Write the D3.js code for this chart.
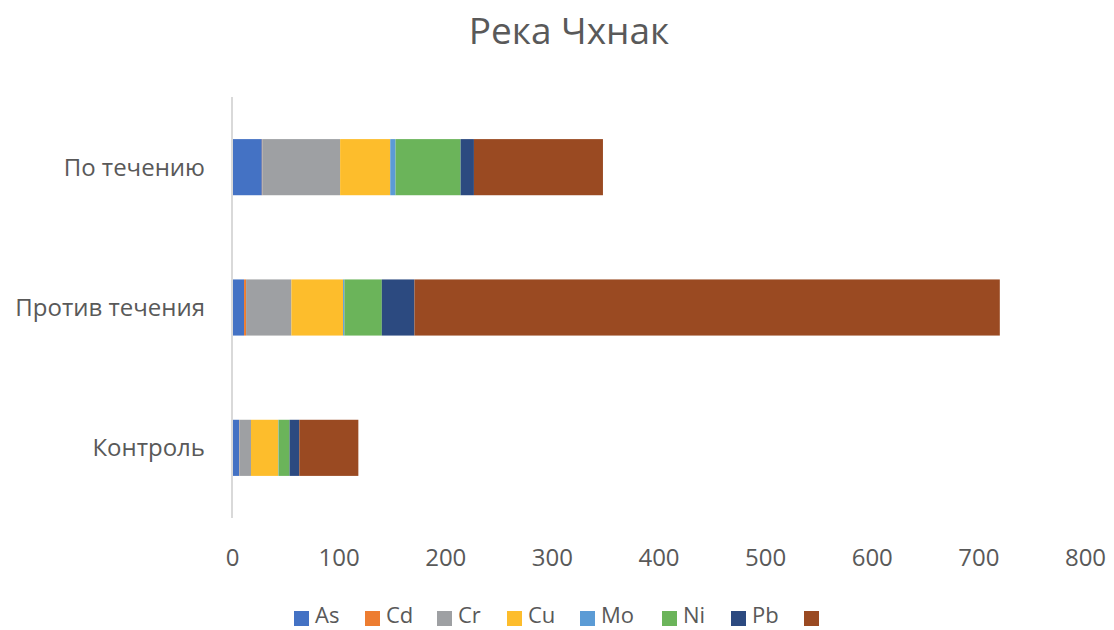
<!DOCTYPE html>
<html><head><meta charset="utf-8">
<script src="https://cdn.jsdelivr.net/npm/d3@7"></script>
<style>body{margin:0;background:#fff}svg{display:block}text{font-family:"Open Sans",sans-serif;fill:#595959}</style>
</head><body><svg id="c" width="1114" height="630"></svg>
<script>
const categories = ["По течению", "Против течения", "Контроль"];
const seriesNames = ["As", "Cd", "Cr", "Cu", "Mo", "Ni", "Pb", ""];
const As = [28, 11.3, 6.6];
const Cd = [0.4, 1.9, 0.3];
const Cr = [73, 42.5, 10.9];
const Cu = [47, 48.5, 25.6];
const Mo = [5, 1.2, 0.3];
const Ni = [61, 35.1, 10.3];
const Pb = [12.5, 30.6, 9.1];
const Other = [121, 549, 55.4];
const xTicks = [0, 100, 200, 300, 400, 500, 600, 700, 800];
const colors = ["#4472C4", "#ED7D31", "#9EA0A3", "#FDBD2C", "#5B9BD5", "#6BB45A", "#2C4A80", "#9A4A22"];
const seriesVals = [As, Cd, Cr, Cu, Mo, Ni, Pb, Other];

(function(){
const svg = d3.select("#c");
const pL = 232, pR = 1085, pT = 97, pB = 518;
const x = d3.scaleLinear().domain([0, 800]).range([pL, pR]);
const y = d3.scaleBand().domain(categories).range([pT, pB]).paddingInner(0.6).paddingOuter(0.3);

svg.append("text").attr("x", 569).attr("y", 44).attr("text-anchor", "middle")
  .style("font-size", "37px").text("Река Чхнак");

const rows = categories.map((c, i) => {
  const o = {cat: c};
  seriesNames.forEach((s, j) => o["s" + j] = seriesVals[j][i]);
  return o;
});
const keys = seriesNames.map((s, j) => "s" + j);
const stack = d3.stack().keys(keys)(rows);

svg.append("g").selectAll("g").data(stack).join("g")
  .attr("fill", (d, i) => colors[i])
  .selectAll("rect").data(d => d).join("rect")
  .attr("x", d => x(d[0])).attr("width", d => Math.max(0, x(d[1]) - x(d[0])))
  .attr("y", d => y(d.data.cat)).attr("height", y.bandwidth());

svg.append("line").attr("x1", pL).attr("x2", pL).attr("y1", pT).attr("y2", pB)
  .attr("stroke", "#D9D9D9").attr("stroke-width", 2);

const xa = d3.axisBottom(x).tickValues(xTicks).tickSize(0).tickPadding(0);
const gx = svg.append("g").attr("transform", `translate(0,${pB})`).call(xa);
gx.select(".domain").remove();
gx.selectAll("text").attr("y", 48).attr("dy", null).style("font-size", "24px").style("fill", "#595959")
  .style("font-family", '"Open Sans",sans-serif');

const ya = d3.axisLeft(y).tickSize(0).tickPadding(0);
const gy = svg.append("g").attr("transform", `translate(205,0)`).call(ya);
gy.select(".domain").remove();
gy.selectAll("text").attr("dy", "0.35em").style("font-size", "24px").style("fill", "#595959")
  .style("font-family", '"Open Sans",sans-serif');

const legendX = [294, 365, 437, 507, 580, 662, 731, 804];
const lg = svg.append("g");
seriesNames.forEach((s, i) => {
  lg.append("rect").attr("x", legendX[i]).attr("y", 611).attr("width", 15).attr("height", 15).attr("fill", colors[i]);
  lg.append("text").attr("x", legendX[i] + 21).attr("y", 623).style("font-size", "22px").text(s);
});
})();
</script></body></html>
